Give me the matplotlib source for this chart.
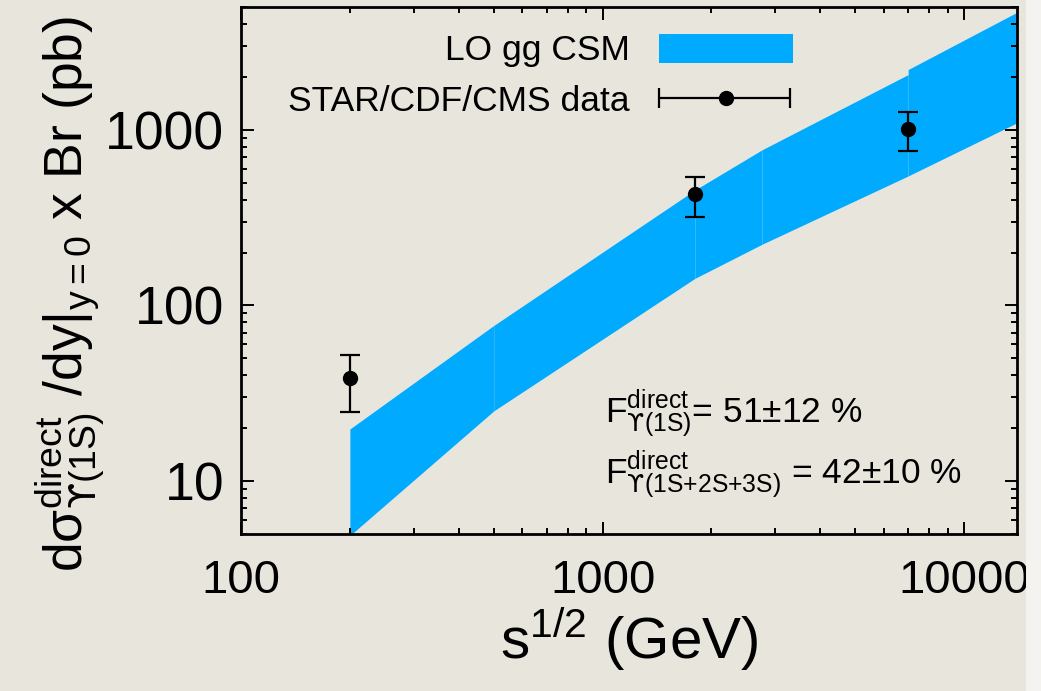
import matplotlib
matplotlib.use("Agg")
import matplotlib.pyplot as plt
from matplotlib.patches import Rectangle

plt.rcParams['font.family'] = ['Liberation Sans', 'DejaVu Sans']
plt.rcParams['mathtext.fontset'] = 'custom'
plt.rcParams['mathtext.rm'] = 'Liberation Sans'
plt.rcParams['mathtext.it'] = 'Liberation Sans:italic'
plt.rcParams['mathtext.bf'] = 'Liberation Sans:bold'
plt.rcParams['mathtext.sf'] = 'DejaVu Sans'
plt.rcParams['mathtext.fallback'] = 'stix'
plt.rcParams['mathtext.default'] = 'regular'

# LO gg CSM band, one segment per collider energy interval (GeV, pb)
seg_sqrt_s = [(200, 500), (500, 1800), (1800, 2760), (2760, 7000), (7000, 14000)]
seg_low = [(4.9, 25.1), (25.1, 142.6), (142.6, 223.0), (223.0, 546.0), (546.0, 1096.0)]
seg_high = [(19.8, 76.9), (76.9, 454.0), (454.0, 769.0), (769.0, 2062.0), (2203.0, 4666.0)]

# STAR / CDF / CMS measurements
data_sqrt_s = [200, 1800, 7000]
data_xsec = [38.5, 430.0, 1013.0]
data_err_low = [13.7, 112.0, 251.0]
data_err_high = [14.0, 108.0, 254.0]

band_color = '#00aaff'
bg = '#e8e5dd'
ups = r'\mathsf{ϒ}'

fig = plt.figure(figsize=(10.41, 6.91), dpi=100, facecolor=bg)
ax = fig.add_axes([241 / 1041, 1 - 534 / 691, 776 / 1041, 527 / 691])
ax.set_facecolor(bg)

for (x0, x1), (l0, l1), (h0, h1) in zip(seg_sqrt_s, seg_low, seg_high):
    ax.fill_between([x0, x1], [l0, l1], [h0, h1], color=band_color, lw=0, zorder=1)

ax.errorbar(data_sqrt_s, data_xsec, yerr=[data_err_low, data_err_high],
            fmt='o', color='black', ms=10, lw=1.6, capsize=7, capthick=1.6, zorder=3)

ax.set_xscale('log')
ax.set_yscale('log')
ax.set_xlim(100, 14000)
ax.set_ylim(5, 5000)
ax.set_xticks([100, 1000, 10000])
ax.set_xticklabels(['100', '1000', '10000'])
ax.set_yticks([10, 100, 1000])
ax.set_yticklabels(['10', '100', '1000'])

for s in ax.spines.values():
    s.set_linewidth(2.0)
ax.tick_params(which='both', direction='in', top=True, right=True, width=1.4)
ax.tick_params(which='major', length=9)
ax.tick_params(which='minor', length=4.5)
ax.tick_params(axis='x', pad=18, labelsize=34)
ax.tick_params(axis='y', pad=12, labelsize=38.5)

ax.set_xlabel(r'$s^{1/2}$ (GeV)', fontsize=42, labelpad=2)
ax.set_ylabel(r'd$σ^{direct}_{' + ups + r'(1S)}$ /dy$|_{y{=}0}$ x Br (pb)',
              fontsize=38.5)
ax.yaxis.set_label_coords(-0.172, 0.455)

# legend
ax.add_patch(Rectangle((0.539, 0.894), 0.172, 0.055, transform=ax.transAxes,
                       color=band_color, lw=0, zorder=4))
ax.text(0.501, 0.917, 'LO gg CSM', transform=ax.transAxes, ha='right', va='center', fontsize=25.5)
ax.errorbar([0.625], [0.827], xerr=[[0.086], [0.083]], transform=ax.transAxes,
            fmt='o', color='black', ms=10, lw=1.6, capsize=7, capthick=1.6, zorder=4)
ax.text(0.501, 0.820, 'STAR/CDF/CMS data', transform=ax.transAxes, ha='right', va='center', fontsize=25.5)

# feed-down fractions
ax.text(0.469, 0.211, r'F$^{direct}_{' + ups + r'(1S)}$= 51$\pm$12 %', transform=ax.transAxes,
        ha='left', va='baseline', fontsize=25.5)
ax.text(0.469, 0.095, r'F$^{direct}_{' + ups + r'(1S{+}2S{+}3S)}$ = 42$\pm$10 %',
        transform=ax.transAxes, ha='left', va='baseline', fontsize=25.5)

# torn paper edge on the right
fig.patches.append(Rectangle((1026 / 1041, 0), 15 / 1041, 1, transform=fig.transFigure,
                             color='#f5f3ef', lw=0, zorder=0))

fig.savefig('out.png', dpi=100, facecolor=bg)
